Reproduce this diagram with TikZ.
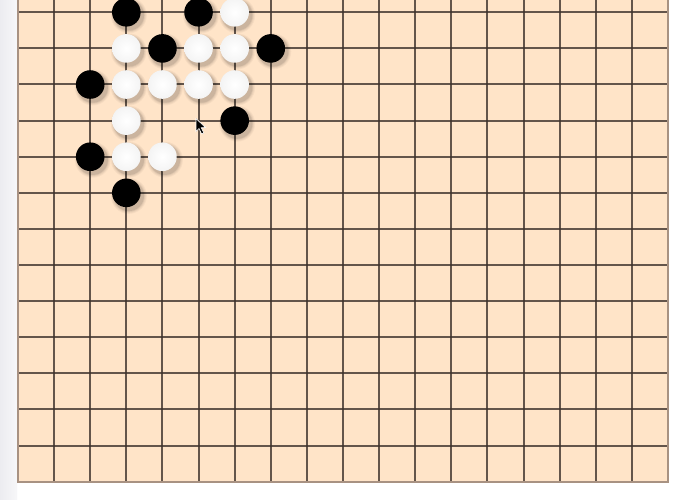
\documentclass[tikz,border=0pt]{standalone}
\usetikzlibrary{shadings}
\definecolor{boardc}{HTML}{FFE4C8}
\definecolor{gridc}{HTML}{3E322C}
\definecolor{edgec}{HTML}{A89282}
\definecolor{stripL}{HTML}{ECECF0}
\definecolor{stripR}{HTML}{F7F7F9}
\definecolor{whiteedge}{HTML}{F4F4F4}
\tikzset{
  stone/.style={circle, minimum size=28.6pt, inner sep=0pt, outer sep=0pt},
  blackstone/.style={stone, fill=black},
  whitestone/.style={stone, inner color=white, outer color=whiteedge, draw=none},
  gridline/.style={draw=gridc, line width=2pt, opacity=0.8},
  edgeline/.style={draw=edgec, line width=1.6pt},
  cursorshape/.style={fill=black, draw=white, line width=0.6pt, line join=miter}
}
\newcommand{\stoneshadow}[2]{%
  \foreach \r/\o in {18/0.035,17/0.045,16/0.06,15.2/0.08} {
    \fill[black, opacity=\o] (#1+2.5,#2+3) circle (\r);
  }%
}
\begin{document}
\begin{tikzpicture}[x=1pt,y=-1pt]
  \useasboundingbox (0,0) rectangle (680,500);
  \fill[white] (0,0) rectangle (680,500);
  \shade[left color=stripL, right color=stripR] (0,0) rectangle (17,500);
  % board
  \fill[boardc] (18,0) rectangle (668,481.7);
  \pgfmathsetmacro{\s}{650/18}
  \foreach \i in {1,...,17} {
    \draw[gridline] ({18+\i*\s},0) -- ({18+\i*\s},481.7);
  }
  \foreach \k in {1,...,13} {
    \draw[gridline] (18,{481.7-\k*\s}) -- (668,{481.7-\k*\s});
  }
  \draw[edgeline] (18,0) -- (18,481.7) -- (668,481.7) -- (668,0);
  % stones: column i -> x = 18 + i*s, row j -> y = 12.3 + j*s
  \foreach \c/\i/\j/\n in {
    b/3/0/b30, b/5/0/b50, w/6/0/w60,
    w/3/1/w31, b/4/1/b41, w/5/1/w51, w/6/1/w61, b/7/1/b71,
    b/2/2/b22, w/3/2/w32, w/4/2/w42, w/5/2/w52, w/6/2/w62,
    w/3/3/w33, b/6/3/b63,
    b/2/4/b24, w/3/4/w34, w/4/4/w44,
    b/3/5/b35} {
    \pgfmathsetmacro{\px}{18+\i*\s}
    \pgfmathsetmacro{\py}{12.3+\j*\s}
    \stoneshadow{\px}{\py}
    \if b\c
      \node[blackstone] (\n) at (\px,\py) {};
    \else
      \node[whitestone] (\n) at (\px,\py) {};
    \fi
  }
  % mouse pointer
  \coordinate (tip) at (196,118.5);
  \draw[cursorshape] (tip) -- ++(0,13) -- ++(3,-3) -- ++(2.6,5.4) -- ++(2.2,-1) -- ++(-2.5,-5.2) -- ++(4.3,0) -- cycle;
\end{tikzpicture}
\end{document}
